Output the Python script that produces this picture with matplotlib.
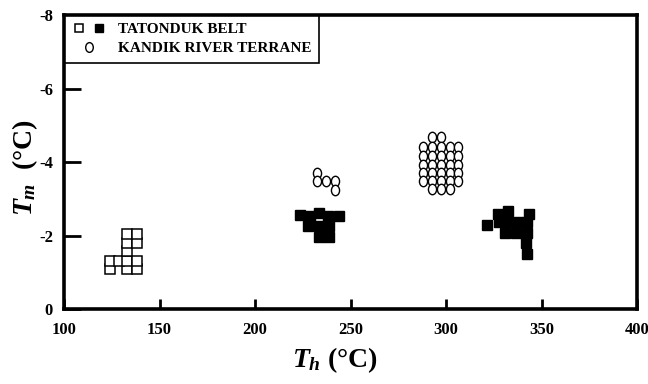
import matplotlib
matplotlib.use('Agg')
import matplotlib.pyplot as plt
from matplotlib.path import Path
from matplotlib.lines import Line2D
from matplotlib.legend_handler import HandlerTuple

plt.rcParams['font.family'] = 'Liberation Serif'
plt.rcParams['font.weight'] = 'bold'
plt.rcParams['axes.unicode_minus'] = False
plt.rcParams['mathtext.fontset'] = 'custom'
plt.rcParams['mathtext.it'] = 'Liberation Serif:italic:bold'
plt.rcParams['mathtext.rm'] = 'Liberation Serif:bold'

# Tatonduk Belt - open squares
tat_open_th = [124, 133, 138, 124, 128.5, 133, 138, 133, 133, 138, 133, 138]
tat_open_tm = [-1.08, -1.08, -1.08, -1.32, -1.32, -1.32, -1.32, -1.57, -1.81, -1.81, -2.05, -2.05]

# Tatonduk Belt - filled squares
tat_fill_th = [223.6, 228.5, 233.5, 238.1, 243.7, 227.7, 233.3, 238.8, 233.3, 238.8,
               321.6, 327.0, 332.4, 343.7, 327.6, 332.6, 337.4, 342.6, 331.1, 336.9,
               342.3, 341.9, 342.5]
tat_fill_tm = [-2.57, -2.52, -2.61, -2.54, -2.52, -2.26, -2.26, -2.26, -1.97, -1.97,
               -2.30, -2.60, -2.66, -2.60, -2.36, -2.36, -2.36, -2.36, -2.06, -2.06,
               -2.06, -1.80, -1.51]

# Kandik River Terrane - open circles
kan_th = [232.5, 232.5, 237.1, 241.8, 241.8,
          292.6, 297.2,
          287.9, 292.6, 297.2, 302.1, 306.4,
          287.9, 292.6, 297.2, 302.1, 306.4,
          287.9, 292.6, 297.2, 302.1, 306.4,
          287.9, 292.6, 297.2, 302.1, 306.4,
          287.9, 292.6, 297.2, 302.1, 306.4,
          292.6, 297.2, 302.1]
kan_tm = [-3.69, -3.48, -3.48, -3.48, -3.24,
          -4.67, -4.67,
          -4.40, -4.40, -4.40, -4.40, -4.40,
          -4.17, -4.17, -4.17, -4.17, -4.17,
          -3.93, -3.93, -3.93, -3.93, -3.93,
          -3.71, -3.71, -3.71, -3.71, -3.71,
          -3.48, -3.48, -3.48, -3.48, -3.48,
          -3.26, -3.26, -3.26]

x_ticks = [100, 150, 200, 250, 300, 350, 400]
y_ticks = [0, -2, -4, -6, -8]

# tall ellipse marker
circ = Path.unit_circle()
ellipse = Path(circ.vertices * [0.78, 1.0], circ.codes)

fig = plt.figure(figsize=(6.48, 3.84), dpi=100)
ax = fig.add_axes([0.099, 0.195, 0.884, 0.766])

ax.plot(tat_open_th, tat_open_tm, ls='none', marker='s', ms=6.5,
        mfc='white', mec='black', mew=1.1)
ax.plot(tat_fill_th, tat_fill_tm, ls='none', marker='s', ms=6.5,
        mfc='black', mec='black', mew=1.0)
ax.plot(kan_th, kan_tm, ls='none', marker=ellipse, ms=7.5,
        mfc='white', mec='black', mew=1.0)

ax.set_xlim(100, 400)
ax.set_ylim(0, -8)
ax.set_xticks(x_ticks)
ax.set_yticks(y_ticks)
ax.set_xticklabels([str(v) for v in x_ticks])
ax.set_yticklabels([str(v) for v in y_ticks])
ax.tick_params(axis='x', direction='in', length=7.5, width=2.0, pad=9, labelsize=12)
ax.tick_params(axis='y', direction='in', length=12.5, width=2.0, pad=8, labelsize=12)
for sp in ax.spines.values():
    sp.set_linewidth(2.6)
    sp.set_zorder(6)

h_open = Line2D([], [], ls='none', marker='s', ms=6, mfc='white', mec='black', mew=1.1)
h_fill = Line2D([], [], ls='none', marker='s', ms=6, mfc='black', mec='black')
h_circ = Line2D([], [], ls='none', marker=ellipse, ms=7, mfc='white', mec='black', mew=1.0)
leg = ax.legend([(h_open, h_fill), h_circ], ['TATONDUK BELT', 'KANDIK RIVER TERRANE'],
                handler_map={tuple: HandlerTuple(ndivide=None, pad=0.4)},
                loc='upper left', bbox_to_anchor=(0, 1), borderaxespad=0,
                fancybox=False, edgecolor='black', framealpha=1,
                prop={'weight': 'bold', 'size': 11}, handlelength=2.2,
                handletextpad=0.8, borderpad=0.5, labelspacing=0.35)
leg.get_frame().set_linewidth(1.2)

fig.text(335 / 648, 1 - 360 / 384, r'$T_h$ (°C)', ha='center', va='center',
         fontsize=20, fontweight='bold')
fig.text(25 / 648, 1 - 167 / 384, r'$T_m$  (°C)', ha='center', va='center',
         fontsize=20, fontweight='bold', rotation=90)

fig.savefig('out.png', dpi=100)
